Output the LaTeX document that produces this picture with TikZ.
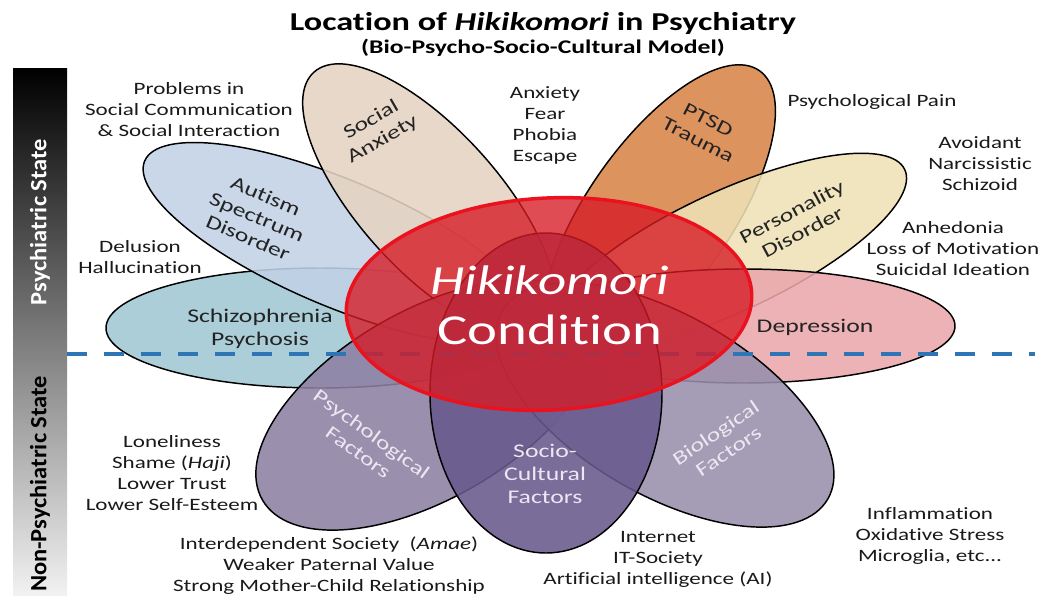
\documentclass[tikz,border=0pt]{standalone}
\usepackage{fontspec}
\setmainfont{Carlito}[FakeStretch=1.33, Ligatures=NoCommon]
\newfontfamily\barfont{Carlito}[FakeStretch=1.05, Ligatures=NoCommon]

\tikzset{every picture/.style={line width=0.75pt}}
\tikzset{
petal/.style={draw=black, line width=1.1pt, fill opacity=0.88},
note/.style={align=center, inner sep=0pt, text={rgb, 255:red, 25; green, 25; blue, 25 }, font=\fontsize{13}{15.75}\selectfont},
petal label/.style={align=center, inner sep=0pt, text={rgb, 255:red, 35; green, 35; blue, 35 }, font=\fontsize{14.5}{17}\selectfont},
light label/.style={petal label, text={rgb, 255:red, 236; green, 232; blue, 242 }},
bar text/.style={inner sep=0pt, rotate=90, font=\barfont\bfseries\fontsize{17.5}{20}\selectfont}}

\begin{document}
\begin{tikzpicture}[x=0.75pt,y=0.75pt,yscale=-1,xscale=1]
\useasboundingbox (0,0) rectangle (1047,596);

%Shape: Rectangle (state bar)
\shade [top color=black, middle color={rgb, 255:red, 110; green, 110; blue, 110 }, bottom color={rgb, 255:red, 242; green, 242; blue, 242 }] (13,68) rectangle (67,596) ;

%Shape: Ellipse (Schizophrenia)
\draw [petal, fill={rgb, 255:red, 160; green, 199; blue, 212 }, shift={(320,328)}, rotate=0] (0,0) ellipse [x radius=214, y radius=60] ;
%Shape: Ellipse (Autism)
\draw [petal, fill={rgb, 255:red, 193; green, 210; blue, 230 }, shift={(338,243)}, rotate=23] (0,0) ellipse [x radius=210, y radius=63] ;
%Shape: Ellipse (Social Anxiety)
\draw [petal, fill={rgb, 255:red, 229; green, 211; blue, 193 }, shift={(429,200)}, rotate=48] (0,0) ellipse [x radius=172, y radius=70] ;
%Shape: Ellipse (PTSD)
\draw [petal, fill={rgb, 255:red, 216; green, 132; blue, 72 }, shift={(659,214)}, rotate=-55] (0,0) ellipse [x radius=175, y radius=72] ;
%Shape: Ellipse (Personality)
\draw [petal, fill={rgb, 255:red, 238; green, 225; blue, 181 }, shift={(728,252)}, rotate=-25] (0,0) ellipse [x radius=195, y radius=60] ;
%Shape: Ellipse (Depression)
\draw [petal, fill={rgb, 255:red, 233; green, 167; blue, 172 }, shift={(743,326)}, rotate=0] (0,0) ellipse [x radius=212, y radius=57] ;
%Shape: Ellipse (Psychological)
\draw [petal, fill={rgb, 255:red, 141; green, 128; blue, 163 }, shift={(427,405)}, rotate=-30] (0,0) ellipse [x radius=190, y radius=94] ;
%Shape: Ellipse (Biological)
\draw [petal, fill={rgb, 255:red, 152; green, 142; blue, 172 }, shift={(665,405)}, rotate=30] (0,0) ellipse [x radius=188, y radius=90] ;
%Shape: Ellipse (Socio-Cultural)
\draw [petal, fill={rgb, 255:red, 104; green, 89; blue, 140 }, shift={(546,393)}, rotate=0] (0,0) ellipse [x radius=116, y radius=160] ;

%Straight Lines (state border)
\draw [color={rgb, 255:red, 46; green, 117; blue, 182 }, line width=3pt, dash pattern={on 15pt off 12.75pt}] (67,354) -- (1035,354) ;

%Shape: Ellipse (Hikikomori)
\draw [color={rgb, 255:red, 234; green, 18; blue, 30 }, line width=2.6pt, fill={rgb, 255:red, 214; green, 26; blue, 36 }, fill opacity=0.78, shift={(549,304)}, rotate=-3] (0,0) ellipse [x radius=203, y radius=106] ;

% Text Node
\draw (543,23) node (title) [inner sep=0pt, font=\bfseries\fontsize{19.3}{23}\selectfont] {Location of \textit{Hikikomori} in Psychiatry};
% Text Node
\draw (543,48) node (subtitle) [inner sep=0pt, font=\bfseries\fontsize{14.5}{17}\selectfont] {(Bio-Psycho-Socio-Cultural Model)};
% Text Node
\draw (40,222) node (psy state) [bar text, text=white] {Psychiatric State};
% Text Node
\draw (40,484) node (non psy state) [bar text, text=black] {Non-Psychiatric State};

% Text Node
\draw (189,110) node (communication) [note] {Problems in\\Social Communication\\\& Social Interaction};
% Text Node
\draw (545,125) node (fear) [note] {Anxiety\\Fear\\Phobia\\Escape};
% Text Node
\draw (872,102) node (pain) [note] {Psychological Pain};
% Text Node
\draw (980,164) node (avoidant) [note] {Avoidant\\Narcissistic\\Schizoid};
% Text Node
\draw (953,249) node (anhedonia) [note] {Anhedonia\\Loss of Motivation\\Suicidal Ideation};
% Text Node
\draw (140,257) node (delusion) [note] {Delusion\\Hallucination};
% Text Node
\draw (172,473) node (loneliness) [note] {Loneliness\\Shame (\textit{Haji})\\Lower Trust\\Lower Self-Esteem};
% Text Node
\draw (329,566) node (amae) [note] {Interdependent Society~~(\textit{Amae})\\Weaker Paternal Value\\Strong Mother-Child Relationship};
% Text Node
\draw (658,559) node (internet) [note] {Internet\\IT-Society\\Artificial intelligence (AI)};
% Text Node
\draw (930,536) node (inflammation) [note] {Inflammation\\Oxidative Stress\\Microglia, etc...};

% Text Node
\draw (260,329) node (schizophrenia) [petal label] {Schizophrenia\\Psychosis};
% Text Node
\draw (257,217) node (autism) [petal label, rotate=-23] {Autism\\Spectrum\\Disorder};
% Text Node
\draw (377,130) node (social anxiety) [petal label, rotate=30] {Social\\Anxiety};
% Text Node
\draw (703,130) node (ptsd) [petal label, rotate=-27] {PTSD\\Trauma};
% Text Node
\draw (797,222) node (personality) [petal label, rotate=28] {Personality\\Disorder};
% Text Node
\draw (815,327) node (depression) [petal label] {Depression};
% Text Node
\draw (365,443) node (psychological) [light label, rotate=-36] {Psychological\\Factors};
% Text Node
\draw (545,474) node (socio) [light label] {Socio-\\Cultural\\Factors};
% Text Node
\draw (722,442) node (biological) [light label, rotate=34] {Biological\\Factors};

% Text Node
\draw (550,280) node (hikikomori) [inner sep=0pt, text=white, font=\itshape\fontsize{31}{36}\selectfont] {Hikikomori};
% Text Node
\draw (550,330) node (condition) [inner sep=0pt, text=white, font=\fontsize{32}{36}\selectfont] {Condition};

\end{tikzpicture}
\end{document}
